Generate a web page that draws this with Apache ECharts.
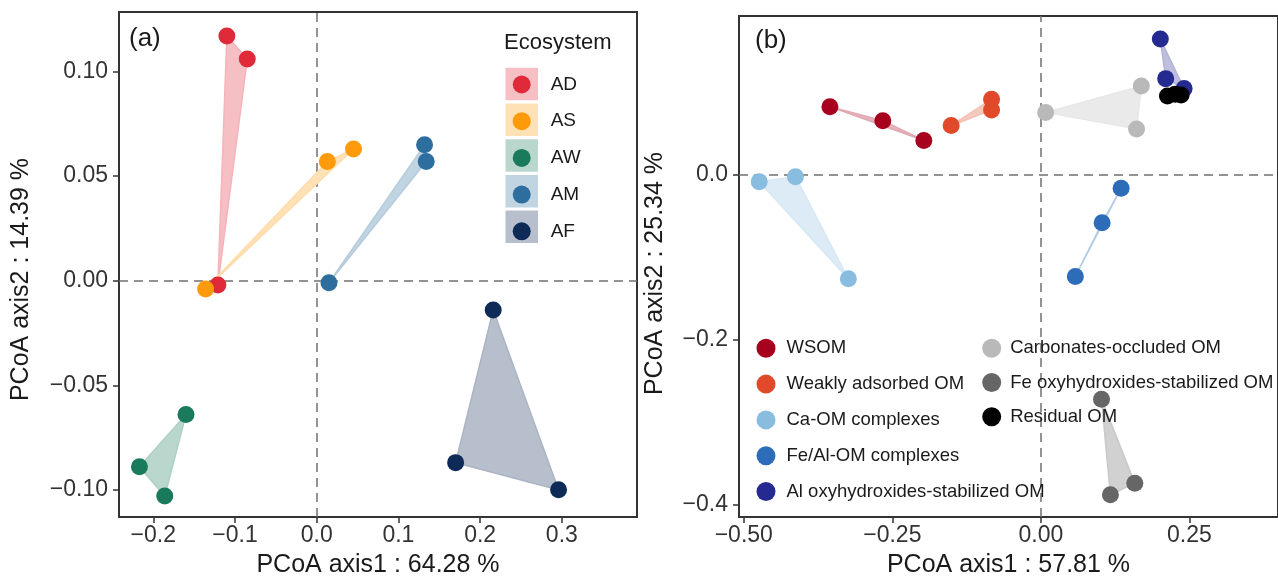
<!DOCTYPE html>
<html>
<head>
<meta charset="utf-8">
<script src="https://cdn.jsdelivr.net/npm/echarts@6/dist/echarts.min.js"></script>
<style>
html,body{margin:0;padding:0;background:#fff;}
#chart{width:1278px;height:583px;}
</style>
</head>
<body>
<div id="chart"></div>
<script>
// (a) PCoA by ecosystem
var ecoNames = ['AD', 'AS', 'AW', 'AM', 'AF'];
var ptsAD = [[-0.110, 0.117], [-0.085, 0.106], [-0.121, -0.002]];
var ptsAS = [[-0.136, -0.004], [0.013, 0.057], [0.045, 0.063]];
var ptsAW = [[-0.160, -0.064], [-0.217, -0.089], [-0.186, -0.103]];
var ptsAM = [[0.132, 0.065], [0.134, 0.057], [0.015, -0.001]];
var ptsAF = [[0.216, -0.014], [0.170, -0.087], [0.296, -0.100]];
var ticksAx = [-0.2, -0.1, 0, 0.1, 0.2, 0.3];
var ticksAy = [-0.10, -0.05, 0, 0.05, 0.10];

// (b) PCoA by OM fraction
var fracNames = ['WSOM', 'Weakly adsorbed OM', 'Ca-OM complexes', 'Fe/Al-OM complexes',
  'Al oxyhydroxides-stabilized OM', 'Carbonates-occluded OM', 'Fe oxyhydroxides-stabilized OM', 'Residual OM'];
var ptsWSOM = [[-0.355, 0.083], [-0.266, 0.066], [-0.197, 0.042]];
var ptsWeak = [[-0.151, 0.060], [-0.083, 0.092], [-0.083, 0.079]];
var ptsCa = [[-0.474, -0.008], [-0.413, -0.002], [-0.324, -0.126]];
var ptsFeAl = [[0.135, -0.016], [0.103, -0.058], [0.058, -0.123]];
var ptsAlOx = [[0.201, 0.165], [0.210, 0.117], [0.241, 0.105]];
var ptsCarb = [[0.008, 0.076], [0.169, 0.108], [0.161, 0.056]];
var ptsFeOx = [[0.102, -0.272], [0.117, -0.388], [0.158, -0.374]];
var ptsResid = [[0.213, 0.096], [0.226, 0.098], [0.236, 0.097]];
var ticksBx = [-0.50, -0.25, 0, 0.25];
var ticksBy = [-0.4, -0.2, 0];

var ecoPts = [ptsAD, ptsAS, ptsAW, ptsAM, ptsAF];
var fracPts = [ptsWSOM, ptsWeak, ptsCa, ptsFeAl, ptsAlOx, ptsCarb, ptsFeOx, ptsResid];

var ecoColors = ['#e02a3a', '#ff9a0a', '#1a7a5c', '#2e6e9e', '#0e2a57'];
var fracColors = ['#a8001f', '#e04a2a', '#89bde0', '#2c6cb8', '#252a90', '#b9b9b9', '#666666', '#000000'];

var FF = '"Liberation Sans", Arial, sans-serif';

// colour mixed with white, kept opaque so edges don't double up
function tint(hex, a) {
  var n = parseInt(hex.slice(1), 16);
  var c = [n >> 16 & 255, n >> 8 & 255, n & 255].map(function(v) { return Math.round(v * a + 255 * (1 - a)); });
  return 'rgb(' + c.join(',') + ')';
}
function fmt(d) { return function(v) { return v.toFixed(d).replace('-', '\u2212'); }; }

function hull(name, pts, color, gi, a) {
  return {
    type: 'custom', name: name + ' hull', xAxisIndex: gi, yAxisIndex: gi, z: 2, silent: true,
    data: pts,
    renderItem: function(params, api) {
      if (params.dataIndex !== 0) return null;
      return {
        type: 'polygon',
        shape: { points: pts.map(function(p) { return api.coord(p); }) },
        style: { fill: tint(color, a), stroke: tint(color, a + 0.05), lineWidth: 1.5 }
      };
    }
  };
}
function dots(name, pts, color, gi) {
  return { type: 'scatter', name: name, xAxisIndex: gi, yAxisIndex: gi, z: 3, data: pts,
    symbolSize: 17, itemStyle: { color: color, opacity: 1 }, emphasis: { disabled: true } };
}
function zeroLines(gi) {
  return { type: 'scatter', name: 'zero' + gi, xAxisIndex: gi, yAxisIndex: gi, data: [], silent: true,
    markLine: { z: 1, silent: true, symbol: 'none', label: { show: false },
      lineStyle: { color: '#707070', type: [9, 6], width: 1.5 },
      data: [{ xAxis: 0 }, { yAxis: 0 }] } };
}
function xAxis(gi, min, max, ticks, d, name) {
  return { type: 'value', gridIndex: gi, min: min, max: max,
    name: name, nameLocation: 'middle', nameGap: 36,
    nameTextStyle: { fontSize: 25, color: '#1a1a1a', fontFamily: FF },
    axisLine: { show: false, onZero: false }, splitLine: { show: false },
    axisTick: { show: true, customValues: ticks, length: 6, lineStyle: { color: '#333', width: 1.5 } },
    axisLabel: { customValues: ticks, formatter: fmt(d), fontSize: 23, color: '#333', margin: 7, fontFamily: FF } };
}
function yAxis(gi, min, max, ticks, d, name, gap, shift) {
  return { type: 'value', gridIndex: gi, min: min, max: max,
    name: name, nameLocation: 'middle', nameGap: gap, nameRotate: 90,
    nameTextStyle: { fontSize: 25, color: '#1a1a1a', fontFamily: FF, padding: [0, shift, 0, 0] },
    axisLine: { show: false, onZero: false }, splitLine: { show: false },
    axisTick: { show: true, customValues: ticks, length: 6, lineStyle: { color: '#333', width: 1.5 } },
    axisLabel: { customValues: ticks, formatter: fmt(d), fontSize: 23, color: '#333', margin: 11, fontFamily: FF } };
}

var series = [zeroLines(0), zeroLines(1)];
ecoNames.forEach(function(n, i) { series.push(hull(n, ecoPts[i], ecoColors[i], 0, 0.3)); });
fracNames.forEach(function(n, i) { series.push(hull(n, fracPts[i], fracColors[i], 1, 0.3)); });
ecoNames.forEach(function(n, i) { series.push(dots(n, ecoPts[i], ecoColors[i], 0)); });
fracNames.forEach(function(n, i) { series.push(dots(n, fracPts[i], fracColors[i], 1)); });

// tinted key backgrounds behind the (a) legend
var keyBg = ecoNames.map(function(n, i) {
  return { type: 'rect', z: 0, silent: true,
    shape: { x: 505.5, y: 67.8 + i * 35.7, width: 32.5, height: 32.5 },
    style: { fill: tint(ecoColors[i], 0.3) } };
});

var chart = echarts.init(document.getElementById('chart'));
chart.setOption({
  animation: false,
  backgroundColor: '#fff',
  textStyle: { fontFamily: FF },
  title: [
    { text: '(a)', left: 129, top: 26, padding: 0, textStyle: { fontSize: 26, fontWeight: 'normal', color: '#1a1a1a', fontFamily: FF } },
    { text: '(b)', left: 755, top: 28, padding: 0, textStyle: { fontSize: 26, fontWeight: 'normal', color: '#1a1a1a', fontFamily: FF } },
    { text: 'Ecosystem', left: 504, top: 32, padding: 0, textStyle: { fontSize: 22, fontWeight: 'normal', color: '#1a1a1a', fontFamily: FF } }
  ],
  grid: [
    { left: 119, top: 12, width: 518, height: 507, show: true, borderColor: '#333', borderWidth: 2, backgroundColor: 'transparent' },
    { left: 739, top: 16, width: 541, height: 506, show: true, borderColor: '#333', borderWidth: 2, backgroundColor: 'transparent' }
  ],
  xAxis: [
    xAxis(0, -0.242, 0.392, ticksAx, 1, 'PCoA axis1 : 64.28 %'),
    xAxis(1, -0.508, 0.399, ticksBx, 2, 'PCoA axis1 : 57.81 %')
  ],
  yAxis: [
    yAxis(0, -0.113, 0.1285, ticksAy, 2, 'PCoA axis2 : 14.39 %', 85, 30),
    yAxis(1, -0.415, 0.193, ticksBy, 1, 'PCoA axis2 : 25.34 %', 71, 14)
  ],
  legend: [
    { data: ecoNames, orient: 'vertical', left: 512.7, top: 75, padding: 0, icon: 'circle',
      itemWidth: 18, itemHeight: 18, itemGap: 17.7, selectedMode: false,
      textStyle: { fontSize: 19, color: '#1a1a1a', fontFamily: FF, lineHeight: 18, padding: [0, 0, 0, 15] } },
    { data: fracNames.slice(0, 5), orient: 'vertical', left: 756.5, top: 338.8, padding: 0, icon: 'circle',
      itemWidth: 19, itemHeight: 19, itemGap: 16.8, selectedMode: false,
      textStyle: { fontSize: 18.5, color: '#1a1a1a', fontFamily: FF, lineHeight: 19, padding: [0, 0, 0, 6] } },
    { data: fracNames.slice(5), orient: 'vertical', left: 982.2, top: 338.8, padding: 0, icon: 'circle',
      itemWidth: 19, itemHeight: 19, itemGap: 15.2, selectedMode: false,
      textStyle: { fontSize: 18.5, color: '#1a1a1a', fontFamily: FF, lineHeight: 19, padding: [0, 0, 0, 4] } }
  ],
  graphic: keyBg,
  series: series
});
</script>
</body>
</html>
